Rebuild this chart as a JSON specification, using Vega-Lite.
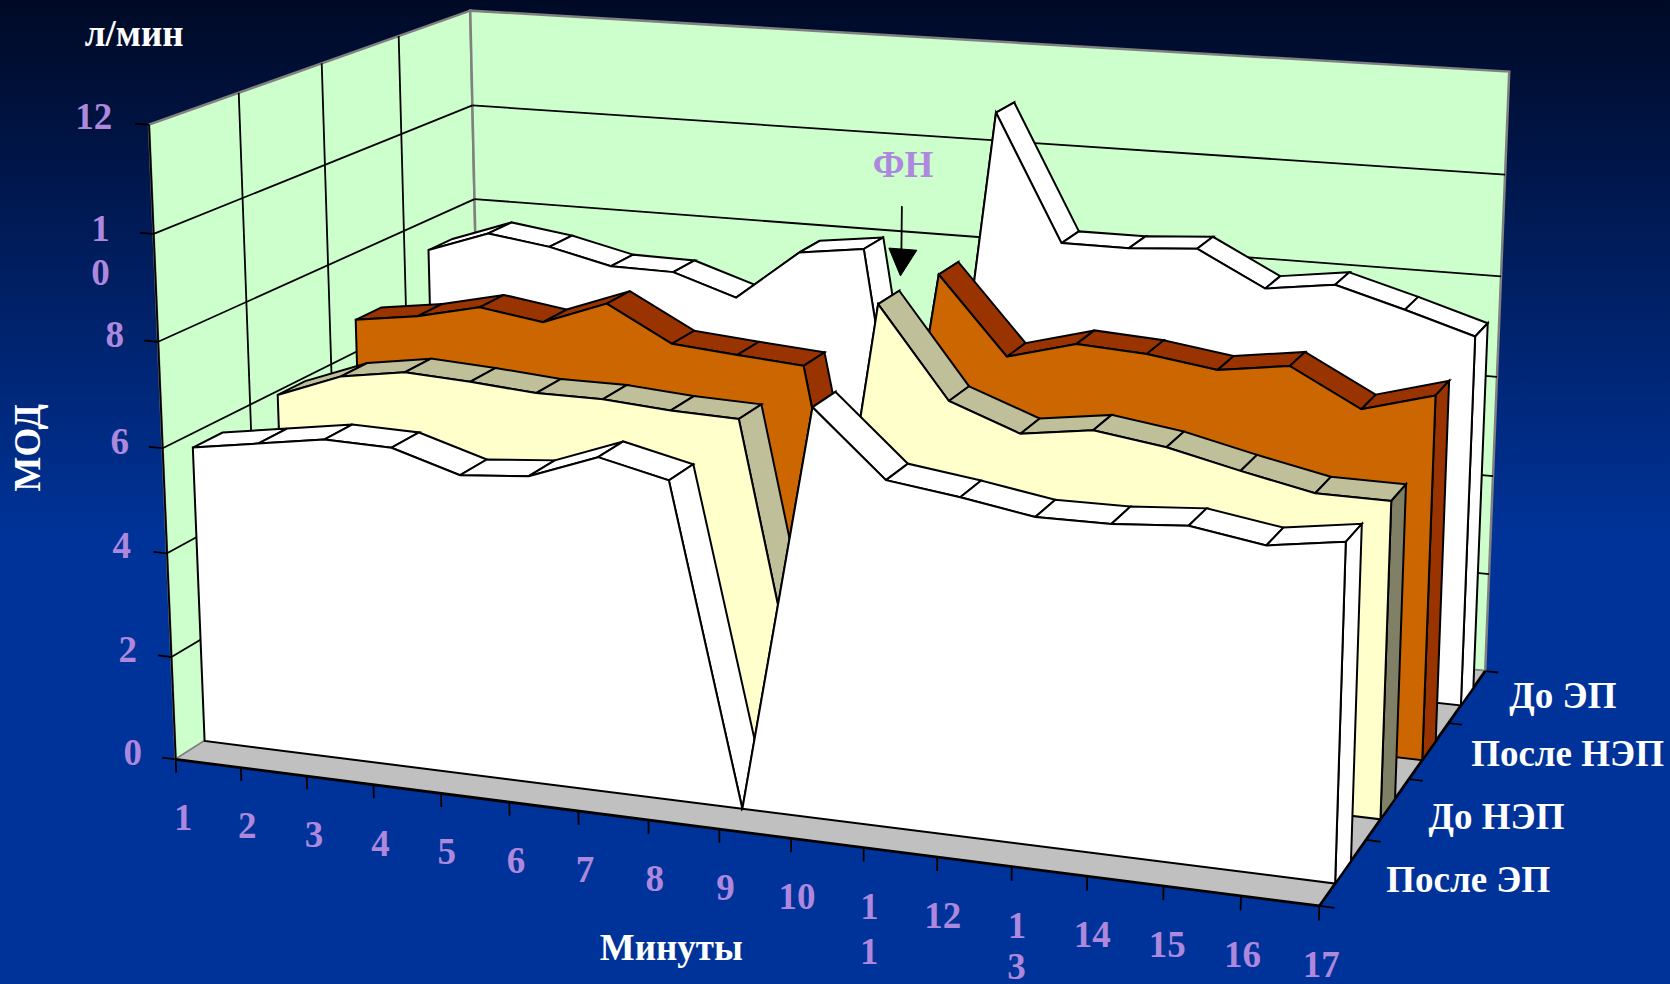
{
"$schema":"https://vega.github.io/schema/vega-lite/v6.json",
"width":1670,"height":984,"padding":0,"autosize":{"type":"none"},
"background":"#003399",
"view":{"stroke":null,"fill":{"gradient":"linear","x1":0,"y1":0,"x2":0,"y2":1,"stops":[{"offset":0,"color":"#000a26"},{"offset":0.12,"color":"#00123f"},{"offset":0.35,"color":"#002470"},{"offset":0.55,"color":"#003399"},{"offset":1,"color":"#003399"}]}},
"datasets":{
"mod":[
{"series":"После ЭП","minute":1,"mod":5.73},{"series":"После ЭП","minute":2,"mod":5.93},{"series":"После ЭП","minute":3,"mod":6.13},{"series":"После ЭП","minute":4,"mod":6.1},{"series":"После ЭП","minute":5,"mod":5.71},{"series":"После ЭП","minute":6,"mod":5.82},{"series":"После ЭП","minute":7,"mod":6.3},{"series":"После ЭП","minute":8,"mod":6.0},{"series":"После ЭП","minute":9,"mod":0},{"series":"После ЭП","minute":10,"mod":7.58},{"series":"После ЭП","minute":11,"mod":6.39},{"series":"После ЭП","minute":12,"mod":6.21},{"series":"После ЭП","minute":13,"mod":5.99},{"series":"После ЭП","minute":14,"mod":6.0},{"series":"После ЭП","minute":15,"mod":6.1},{"series":"После ЭП","minute":16,"mod":5.89},{"series":"После ЭП","minute":17,"mod":6.09},
{"series":"До НЭП","minute":1,"mod":5.92},{"series":"До НЭП","minute":2,"mod":6.4},{"series":"До НЭП","minute":3,"mod":6.6},{"series":"До НЭП","minute":4,"mod":6.53},{"series":"До НЭП","minute":5,"mod":6.43},{"series":"До НЭП","minute":6,"mod":6.43},{"series":"До НЭП","minute":7,"mod":6.33},{"series":"До НЭП","minute":8,"mod":6.29},{"series":"До НЭП","minute":9,"mod":0},{"series":"До НЭП","minute":10,"mod":8.68},{"series":"До НЭП","minute":11,"mod":6.99},{"series":"До НЭП","minute":12,"mod":6.5},{"series":"До НЭП","minute":13,"mod":6.69},{"series":"До НЭП","minute":14,"mod":6.5},{"series":"До НЭП","minute":15,"mod":6.19},{"series":"До НЭП","minute":16,"mod":5.91},{"series":"До НЭП","minute":17,"mod":5.9},
{"series":"После НЭП","minute":1,"mod":6.65},{"series":"После НЭП","minute":2,"mod":6.83},{"series":"После НЭП","minute":3,"mod":7.12},{"series":"После НЭП","minute":4,"mod":6.93},{"series":"После НЭП","minute":5,"mod":7.41},{"series":"После НЭП","minute":6,"mod":6.72},{"series":"После НЭП","minute":7,"mod":6.61},{"series":"После НЭП","minute":8,"mod":6.51},{"series":"После НЭП","minute":9,"mod":0},{"series":"После НЭП","minute":10,"mod":8.51},{"series":"После НЭП","minute":11,"mod":7.03},{"series":"После НЭП","minute":12,"mod":7.39},{"series":"После НЭП","minute":13,"mod":7.31},{"series":"После НЭП","minute":14,"mod":7.12},{"series":"После НЭП","minute":15,"mod":7.31},{"series":"После НЭП","minute":16,"mod":6.61},{"series":"После НЭП","minute":17,"mod":6.99},
{"series":"До ЭП","minute":1,"mod":7.37},{"series":"До ЭП","minute":2,"mod":7.82},{"series":"До ЭП","minute":3,"mod":7.64},{"series":"До ЭП","minute":4,"mod":7.34},{"series":"До ЭП","minute":5,"mod":7.32},{"series":"До ЭП","minute":6,"mod":6.9},{"series":"До ЭП","minute":7,"mod":7.93},{"series":"До ЭП","minute":8,"mod":8.1},{"series":"До ЭП","minute":9,"mod":0},{"series":"До ЭП","minute":10,"mod":11.01},{"series":"До ЭП","minute":11,"mod":8.52},{"series":"До ЭП","minute":12,"mod":8.52},{"series":"До ЭП","minute":13,"mod":8.61},{"series":"До ЭП","minute":14,"mod":7.93},{"series":"До ЭП","minute":15,"mod":8.11},{"series":"До ЭП","minute":16,"mod":7.73},{"series":"До ЭП","minute":17,"mod":7.32}
],
"panels":[
{"panel":"left","ord":0,"X":0,"Y":0,"mod":0},{"panel":"left","ord":1,"X":0,"Y":1,"mod":0},{"panel":"left","ord":2,"X":0,"Y":1,"mod":12},{"panel":"left","ord":3,"X":0,"Y":0,"mod":12},
{"panel":"back","ord":0,"X":0,"Y":1,"mod":0},{"panel":"back","ord":1,"X":1,"Y":1,"mod":0},{"panel":"back","ord":2,"X":1,"Y":1,"mod":12},{"panel":"back","ord":3,"X":0,"Y":1,"mod":12},
{"panel":"floor","ord":0,"X":0,"Y":0,"mod":0},{"panel":"floor","ord":1,"X":1,"Y":0,"mod":0},{"panel":"floor","ord":2,"X":1,"Y":1,"mod":0},{"panel":"floor","ord":3,"X":0,"Y":1,"mod":0}
],
"lines":[
{"kind":"grid","X":0,"Y":0,"mod":2,"X2":0,"Y2":1,"mod2":2},{"kind":"grid","X":0,"Y":1,"mod":2,"X2":1,"Y2":1,"mod2":2},
{"kind":"grid","X":0,"Y":0,"mod":4,"X2":0,"Y2":1,"mod2":4},{"kind":"grid","X":0,"Y":1,"mod":4,"X2":1,"Y2":1,"mod2":4},
{"kind":"grid","X":0,"Y":0,"mod":6,"X2":0,"Y2":1,"mod2":6},{"kind":"grid","X":0,"Y":1,"mod":6,"X2":1,"Y2":1,"mod2":6},
{"kind":"grid","X":0,"Y":0,"mod":8,"X2":0,"Y2":1,"mod2":8},{"kind":"grid","X":0,"Y":1,"mod":8,"X2":1,"Y2":1,"mod2":8},
{"kind":"grid","X":0,"Y":0,"mod":10,"X2":0,"Y2":1,"mod2":10},{"kind":"grid","X":0,"Y":1,"mod":10,"X2":1,"Y2":1,"mod2":10},
{"kind":"grid","X":0,"Y":0.25,"mod":0,"X2":0,"Y2":0.25,"mod2":12},{"kind":"grid","X":0,"Y":0.5,"mod":0,"X2":0,"Y2":0.5,"mod2":12},{"kind":"grid","X":0,"Y":0.75,"mod":0,"X2":0,"Y2":0.75,"mod2":12},
{"kind":"grid","X":0,"Y":0,"mod":0,"X2":0,"Y2":0,"mod2":12},
{"kind":"grid","X":-0.013,"Y":0,"mod":0,"X2":0,"Y2":0,"mod2":0},{"kind":"grid","X":-0.013,"Y":0,"mod":2,"X2":0,"Y2":0,"mod2":2},{"kind":"grid","X":-0.013,"Y":0,"mod":4,"X2":0,"Y2":0,"mod2":4},{"kind":"grid","X":-0.013,"Y":0,"mod":6,"X2":0,"Y2":0,"mod2":6},{"kind":"grid","X":-0.013,"Y":0,"mod":8,"X2":0,"Y2":0,"mod2":8},{"kind":"grid","X":-0.013,"Y":0,"mod":10,"X2":0,"Y2":0,"mod2":10},{"kind":"grid","X":-0.013,"Y":0,"mod":12,"X2":0,"Y2":0,"mod2":12},
{"kind":"grid","X":0,"Y":0,"mod":0,"X2":0,"Y2":0,"mod2":-0.26},{"kind":"grid","X":0.0625,"Y":0,"mod":0,"X2":0.0625,"Y2":0,"mod2":-0.26},{"kind":"grid","X":0.125,"Y":0,"mod":0,"X2":0.125,"Y2":0,"mod2":-0.26},{"kind":"grid","X":0.1875,"Y":0,"mod":0,"X2":0.1875,"Y2":0,"mod2":-0.26},{"kind":"grid","X":0.25,"Y":0,"mod":0,"X2":0.25,"Y2":0,"mod2":-0.26},{"kind":"grid","X":0.3125,"Y":0,"mod":0,"X2":0.3125,"Y2":0,"mod2":-0.26},{"kind":"grid","X":0.375,"Y":0,"mod":0,"X2":0.375,"Y2":0,"mod2":-0.26},{"kind":"grid","X":0.4375,"Y":0,"mod":0,"X2":0.4375,"Y2":0,"mod2":-0.26},{"kind":"grid","X":0.5,"Y":0,"mod":0,"X2":0.5,"Y2":0,"mod2":-0.26},{"kind":"grid","X":0.5625,"Y":0,"mod":0,"X2":0.5625,"Y2":0,"mod2":-0.26},{"kind":"grid","X":0.625,"Y":0,"mod":0,"X2":0.625,"Y2":0,"mod2":-0.26},{"kind":"grid","X":0.6875,"Y":0,"mod":0,"X2":0.6875,"Y2":0,"mod2":-0.26},{"kind":"grid","X":0.75,"Y":0,"mod":0,"X2":0.75,"Y2":0,"mod2":-0.26},{"kind":"grid","X":0.8125,"Y":0,"mod":0,"X2":0.8125,"Y2":0,"mod2":-0.26},{"kind":"grid","X":0.875,"Y":0,"mod":0,"X2":0.875,"Y2":0,"mod2":-0.26},{"kind":"grid","X":0.9375,"Y":0,"mod":0,"X2":0.9375,"Y2":0,"mod2":-0.26},{"kind":"grid","X":1,"Y":0,"mod":0,"X2":1,"Y2":0,"mod2":-0.26},
{"kind":"grid","X":1,"Y":0,"mod":0,"X2":1.012,"Y2":0,"mod2":0},{"kind":"grid","X":1,"Y":0.25,"mod":0,"X2":1.012,"Y2":0.25,"mod2":0},{"kind":"grid","X":1,"Y":0.5,"mod":0,"X2":1.012,"Y2":0.5,"mod2":0},{"kind":"grid","X":1,"Y":0.75,"mod":0,"X2":1.012,"Y2":0.75,"mod2":0},{"kind":"grid","X":1,"Y":1,"mod":0,"X2":1.012,"Y2":1,"mod2":0},
{"kind":"edge","X":0,"Y":0,"mod":0,"X2":1,"Y2":0,"mod2":0},{"kind":"edge","X":1,"Y":0,"mod":0,"X2":1,"Y2":1,"mod2":0},
{"kind":"marker","X":0.4375,"Y":1,"mod":8.52,"X2":0.4372,"Y2":1,"mod2":7.63}
],
"arrowHead":[{"ord":0,"X":0.4248,"Y":1,"mod":7.63},{"ord":1,"X":0.4524,"Y":1,"mod":7.63},{"ord":2,"X":0.4363,"Y":1,"mod":7.07}],
"labels":[
{"role":"tick","label":"12","X":-0.0517,"Y":0,"mod":12.04},{"role":"tick","label":"1","X":-0.0499,"Y":0,"mod":10.0},{"role":"tick","label":"0","X":-0.0519,"Y":0,"mod":9.18},{"role":"tick","label":"8","X":-0.041,"Y":0,"mod":8.04},{"role":"tick","label":"6","X":-0.0408,"Y":0,"mod":6.02},{"role":"tick","label":"4","X":-0.0434,"Y":0,"mod":4.03},{"role":"tick","label":"2","X":-0.042,"Y":0,"mod":2.02},{"role":"tick","label":"0","X":-0.0417,"Y":0,"mod":0.0},
{"role":"tick","label":"1","X":0.005,"Y":0,"mod":-1.17},{"role":"tick","label":"2","X":0.0665,"Y":0,"mod":-1.16},{"role":"tick","label":"3","X":0.13,"Y":0,"mod":-1.16},{"role":"tick","label":"4","X":0.1925,"Y":0,"mod":-1.15},{"role":"tick","label":"5","X":0.254,"Y":0,"mod":-1.145},{"role":"tick","label":"6","X":0.3175,"Y":0,"mod":-1.14},{"role":"tick","label":"7","X":0.38,"Y":0,"mod":-1.13},{"role":"tick","label":"8","X":0.4425,"Y":0,"mod":-1.13},{"role":"tick","label":"9","X":0.505,"Y":0,"mod":-1.12},{"role":"tick","label":"10","X":0.5675,"Y":0,"mod":-1.115},{"role":"tick","label":"1","X":0.63,"Y":0,"mod":-1.11},{"role":"tick","label":"1","X":0.63,"Y":0,"mod":-1.96},{"role":"tick","label":"12","X":0.6925,"Y":0,"mod":-1.1},{"role":"tick","label":"1","X":0.755,"Y":0,"mod":-1.095},{"role":"tick","label":"3","X":0.755,"Y":0,"mod":-1.86},{"role":"tick","label":"14","X":0.8175,"Y":0,"mod":-1.09},{"role":"tick","label":"15","X":0.879,"Y":0,"mod":-1.08},{"role":"tick","label":"16","X":0.94,"Y":0,"mod":-1.075},{"role":"tick","label":"17","X":1.003,"Y":0,"mod":-1.07},
{"role":"tick","label":"ФН","X":0.4385,"Y":1,"mod":9.35},
{"role":"title","label":"После ЭП","X":1.0958,"Y":0.1574,"mod":-0.04},{"role":"title","label":"До НЭП","X":1.0876,"Y":0.397,"mod":-0.04},{"role":"title","label":"После НЭП","X":1.1125,"Y":0.682,"mod":-0.04},{"role":"title","label":"До ЭП","X":1.0792,"Y":0.9295,"mod":-0.04},
{"role":"title","label":"Минуты","X":0.4565,"Y":0,"mod":-2.4},
{"role":"title","label":"л/мин","X":-0.0104,"Y":0,"mod":13.6},
{"role":"vertical","label":"МОД","X":-0.1289,"Y":0,"mod":5.75}
]
},
"encoding":{
"x":{"field":"u","type":"quantitative","scale":{"domain":[0,1670]},"axis":null},
"y":{"field":"v","type":"quantitative","scale":{"domain":[984,0]},"axis":null}
},
"layer":[
{"data":{"name":"panels"},
 "transform":[
  {"calculate":"(175.7+1019.6*datum.X+382.4*datum.Y-2.7*datum.mod)/(1-0.094*datum.X+0.1563*datum.Y-0.0032*datum.mod)","as":"u"},
  {"calculate":"(759.4+61.4*datum.X-107.9*datum.Y-53.3*datum.mod)/(1-0.094*datum.X+0.1563*datum.Y-0.0032*datum.mod)","as":"v"}],
 "layer":[
  {"transform":[{"filter":"datum.panel!='floor'"}],"mark":{"type":"line","interpolate":"linear-closed","fill":"#CCFFCC","stroke":"#808080","strokeWidth":2.5},"encoding":{"detail":{"field":"panel"},"order":{"field":"ord","type":"quantitative"}}},
  {"transform":[{"filter":"datum.panel=='floor'"}],"mark":{"type":"line","interpolate":"linear-closed","fill":"#C0C0C0","stroke":"#808080","strokeWidth":1},"encoding":{"order":{"field":"ord","type":"quantitative"}}}
 ]},
{"data":{"name":"lines"},
 "transform":[
  {"calculate":"(175.7+1019.6*datum.X+382.4*datum.Y-2.7*datum.mod)/(1-0.094*datum.X+0.1563*datum.Y-0.0032*datum.mod)","as":"u"},
  {"calculate":"(759.4+61.4*datum.X-107.9*datum.Y-53.3*datum.mod)/(1-0.094*datum.X+0.1563*datum.Y-0.0032*datum.mod)","as":"v"},
  {"calculate":"(175.7+1019.6*datum.X2+382.4*datum.Y2-2.7*datum.mod2)/(1-0.094*datum.X2+0.1563*datum.Y2-0.0032*datum.mod2)","as":"u2"},
  {"calculate":"(759.4+61.4*datum.X2-107.9*datum.Y2-53.3*datum.mod2)/(1-0.094*datum.X2+0.1563*datum.Y2-0.0032*datum.mod2)","as":"v2"}],
 "encoding":{"x2":{"field":"u2"},"y2":{"field":"v2"}},
 "layer":[
  {"transform":[{"filter":"datum.kind=='grid'"}],"mark":{"type":"rule","color":"#000000","strokeWidth":1.8}},
  {"transform":[{"filter":"datum.kind=='edge'"}],"mark":{"type":"rule","color":"#000000","strokeWidth":2.8}}
 ]},
{"data":{"name":"mod"},
 "transform":[
  {"window":[{"op":"lead","field":"mod","as":"modNext"}],"sort":[{"field":"minute","order":"ascending"}],"groupby":["series"]},
  {"calculate":"indexof(['После ЭП','До НЭП','После НЭП','До ЭП'],datum.series)","as":"slot"},
  {"calculate":"datum.minute==1?['f0','f1','s0','s1','s2','s3']:datum.minute==17?['f1','f2','c0','c1','c2','c3']:['f1','s0','s1','s2','s3']","as":"piece"},
  {"flatten":["piece"]},
  {"calculate":"substring(datum.piece,0,1)","as":"part"},
  {"calculate":"toNumber(substring(datum.piece,1,2))","as":"corner"},
  {"calculate":"(datum.minute-1+(datum.part=='s'&&(datum.corner==1||datum.corner==2)?1:0))/16","as":"X"},
  {"calculate":"(datum.slot+((datum.part=='s'&&datum.corner>=2)||(datum.part=='c'&&(datum.corner==1||datum.corner==2))?0.67:0.33))/4","as":"Y"},
  {"calculate":"datum.part=='f'?(datum.corner==1?datum.mod:0):datum.part=='c'?(datum.corner<=1?datum.mod:0):(datum.corner==0||datum.corner==3?datum.mod:datum.modNext)","as":"height"},
  {"calculate":"datum.part=='f'?(datum.corner==0?0:datum.corner==2?18:datum.minute):datum.corner","as":"ord"},
  {"calculate":"datum.part=='s'?datum.minute:0","as":"facet"},
  {"calculate":"(175.7+1019.6*datum.X+382.4*datum.Y-2.7*datum.height)/(1-0.094*datum.X+0.1563*datum.Y-0.0032*datum.height)","as":"u"},
  {"calculate":"(759.4+61.4*datum.X-107.9*datum.Y-53.3*datum.height)/(1-0.094*datum.X+0.1563*datum.Y-0.0032*datum.height)","as":"v"}],
 "encoding":{"detail":{"field":"facet"},"order":{"field":"ord","type":"quantitative"}},
 "layer":[
  {"transform":[{"filter":"datum.series=='До ЭП'&&datum.part=='s'"}],"mark":{"type":"line","interpolate":"linear-closed","fill":"#FFFFFF","stroke":"#000000","strokeWidth":2}},
  {"transform":[{"filter":"datum.series=='До ЭП'&&datum.part=='c'"}],"mark":{"type":"line","interpolate":"linear-closed","fill":"#FFFFFF","stroke":"#000000","strokeWidth":2}},
  {"transform":[{"filter":"datum.series=='До ЭП'&&datum.part=='f'"}],"mark":{"type":"line","interpolate":"linear-closed","fill":"#FFFFFF","stroke":"#000000","strokeWidth":2}},
  {"transform":[{"filter":"datum.series=='После НЭП'&&datum.part=='s'"}],"mark":{"type":"line","interpolate":"linear-closed","fill":"#993300","stroke":"#000000","strokeWidth":2}},
  {"transform":[{"filter":"datum.series=='После НЭП'&&datum.part=='c'"}],"mark":{"type":"line","interpolate":"linear-closed","fill":"#993300","stroke":"#000000","strokeWidth":2}},
  {"transform":[{"filter":"datum.series=='После НЭП'&&datum.part=='f'"}],"mark":{"type":"line","interpolate":"linear-closed","fill":"#CC6600","stroke":"#000000","strokeWidth":2}},
  {"transform":[{"filter":"datum.series=='До НЭП'&&datum.part=='s'"}],"mark":{"type":"line","interpolate":"linear-closed","fill":"#BFBF99","stroke":"#000000","strokeWidth":2}},
  {"transform":[{"filter":"datum.series=='До НЭП'&&datum.part=='c'"}],"mark":{"type":"line","interpolate":"linear-closed","fill":"#808066","stroke":"#000000","strokeWidth":2}},
  {"transform":[{"filter":"datum.series=='До НЭП'&&datum.part=='f'"}],"mark":{"type":"line","interpolate":"linear-closed","fill":"#FFFFCC","stroke":"#000000","strokeWidth":2}},
  {"transform":[{"filter":"datum.series=='После ЭП'&&datum.part=='s'"}],"mark":{"type":"line","interpolate":"linear-closed","fill":"#FFFFFF","stroke":"#000000","strokeWidth":2}},
  {"transform":[{"filter":"datum.series=='После ЭП'&&datum.part=='c'"}],"mark":{"type":"line","interpolate":"linear-closed","fill":"#FFFFFF","stroke":"#000000","strokeWidth":2}},
  {"transform":[{"filter":"datum.series=='После ЭП'&&datum.part=='f'"}],"mark":{"type":"line","interpolate":"linear-closed","fill":"#FFFFFF","stroke":"#000000","strokeWidth":2}}
 ]},
{"data":{"name":"lines"},
 "transform":[
  {"filter":"datum.kind=='marker'"},
  {"calculate":"(175.7+1019.6*datum.X+382.4*datum.Y-2.7*datum.mod)/(1-0.094*datum.X+0.1563*datum.Y-0.0032*datum.mod)","as":"u"},
  {"calculate":"(759.4+61.4*datum.X-107.9*datum.Y-53.3*datum.mod)/(1-0.094*datum.X+0.1563*datum.Y-0.0032*datum.mod)","as":"v"},
  {"calculate":"(175.7+1019.6*datum.X2+382.4*datum.Y2-2.7*datum.mod2)/(1-0.094*datum.X2+0.1563*datum.Y2-0.0032*datum.mod2)","as":"u2"},
  {"calculate":"(759.4+61.4*datum.X2-107.9*datum.Y2-53.3*datum.mod2)/(1-0.094*datum.X2+0.1563*datum.Y2-0.0032*datum.mod2)","as":"v2"}],
 "mark":{"type":"rule","color":"#000000","strokeWidth":1.8},
 "encoding":{"x2":{"field":"u2"},"y2":{"field":"v2"}}},
{"data":{"name":"arrowHead"},
 "transform":[
  {"calculate":"(175.7+1019.6*datum.X+382.4*datum.Y-2.7*datum.mod)/(1-0.094*datum.X+0.1563*datum.Y-0.0032*datum.mod)","as":"u"},
  {"calculate":"(759.4+61.4*datum.X-107.9*datum.Y-53.3*datum.mod)/(1-0.094*datum.X+0.1563*datum.Y-0.0032*datum.mod)","as":"v"}],
 "mark":{"type":"line","interpolate":"linear-closed","fill":"#000000","stroke":"#000000","strokeWidth":1},
 "encoding":{"order":{"field":"ord","type":"quantitative"}}},
{"data":{"name":"labels"},
 "transform":[
  {"calculate":"(175.7+1019.6*datum.X+382.4*datum.Y-2.7*datum.mod)/(1-0.094*datum.X+0.1563*datum.Y-0.0032*datum.mod)","as":"u"},
  {"calculate":"(759.4+61.4*datum.X-107.9*datum.Y-53.3*datum.mod)/(1-0.094*datum.X+0.1563*datum.Y-0.0032*datum.mod)","as":"v"}],
 "encoding":{"text":{"field":"label","type":"nominal"}},
 "layer":[
  {"transform":[{"filter":"datum.role=='tick'"}],"mark":{"type":"text","font":"Liberation Serif","fontWeight":"bold","fontSize":37,"color":"#AD88DD","align":"center","baseline":"middle"}},
  {"transform":[{"filter":"datum.role=='title'"}],"mark":{"type":"text","font":"Liberation Serif","fontWeight":"bold","fontSize":37,"color":"#FFFFFF","align":"center","baseline":"middle"}},
  {"transform":[{"filter":"datum.role=='vertical'"}],"mark":{"type":"text","font":"Liberation Serif","fontWeight":"bold","fontSize":37,"color":"#FFFFFF","align":"center","baseline":"middle","angle":270}}
 ]}
]
}
